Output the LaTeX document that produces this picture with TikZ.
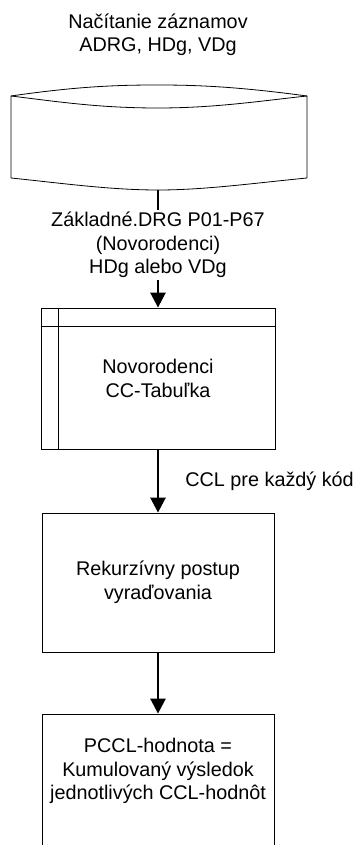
\documentclass[tikz,border=0pt]{standalone}
\usepackage{fontspec}
\setmainfont{Liberation Sans}
\usetikzlibrary{arrows.meta}

\begin{document}
\begin{tikzpicture}[x=1pt, y=-1pt, line width=0.8pt,
		font=\fontsize{19.8}{23.5}\selectfont,
		box/.style={draw=black, minimum width=233, minimum height=140, align=center, inner sep=0pt},
		txt/.style={align=center, inner sep=2pt},
		flow/.style={-{Triangle[width=15pt,length=15pt]}, line width=2.6pt}]
		\useasboundingbox (0,0) rectangle (355,845);
		\clip (0,0) rectangle (355,845);

		\node (title) [txt] at (158,35) {Načítanie záznamov\\ADRG, HDg, VDg};

		\draw (11,96) .. controls (80,86) and (120,85) .. (158,85) .. controls (200,85) and (240,87) .. (307,96);
		\draw (11,96) .. controls (60,102) and (100,108) .. (158,108) .. controls (215,108) and (260,101) .. (307,96);
		\draw (11,96) -- (11,178) .. controls (60,183) and (110,190) .. (158,190) .. controls (205,190) and (255,183) .. (307,178) -- (307,96);
		\coordinate (inp) at (158,190);

		\node (sel) [txt] at (158,245) {Základné.DRG P01-P67\\(Novorodenci)\\HDg alebo VDg};
		\draw[line width=2.6pt] (inp) -- (sel.north);

		\node (box2) [box, minimum width=234, minimum height=141] at (158,378.5) {Novorodenci\\CC-Tabuľka};
		\draw ([xshift=18pt]box2.north west) -- ([xshift=18pt]box2.south west);
		\draw ([yshift=-19pt]box2.north west) -- ([yshift=-19pt]box2.north east);
		\draw[flow] (sel.south) -- (box2.north);

		\node (box3) [box, minimum width=232, minimum height=139] at (158,582.5) {Rekurzívny postup\\vyraďovania};
		\draw[flow] (box2.south) -- (box3.north);
		\node (ccl) [txt, anchor=west] at (183,481) {CCL pre každý kód};

		\node (box4) [box, minimum width=232, minimum height=160] at (158,794) {};
		\node (pccl) [txt] at (158,771) {PCCL-hodnota =\\Kumulovaný výsledok\\jednotlivých CCL-hodnôt};
		\draw[flow] (box3.south) -- (box4.north);
	\end{tikzpicture}
\end{document}
